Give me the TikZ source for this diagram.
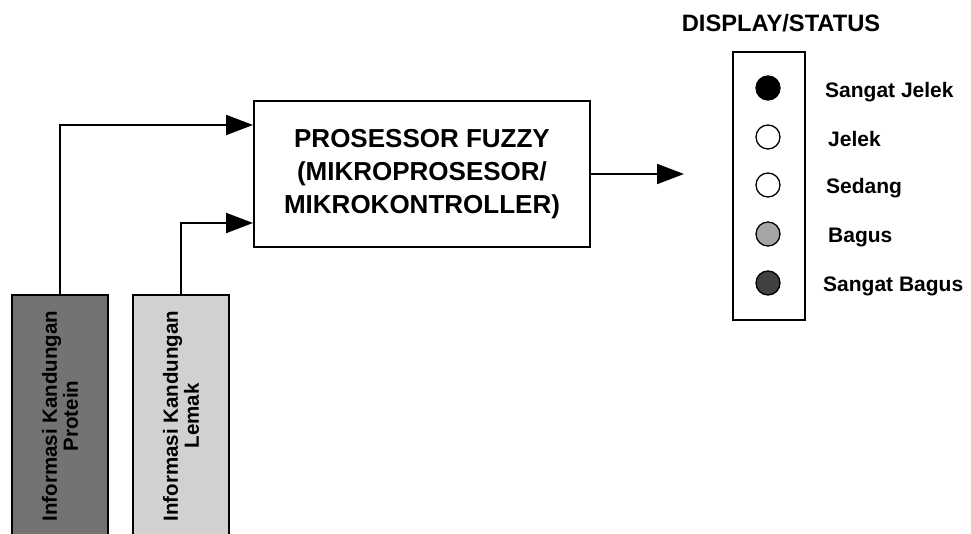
\documentclass[tikz,border=0pt]{standalone}
\usepackage{fontspec}
\setmainfont{Liberation Sans}
\usetikzlibrary{arrows.meta}
\tikzset{
  conn/.style={line width=2pt, -{Triangle[length=27pt,width=20pt]}},
  procbox/.style={draw, line width=2.2pt, minimum width=336pt, minimum height=146pt, align=center,
    font=\fontsize{26}{33}\selectfont\bfseries},
  sensorbox/.style={draw, line width=2.2pt, rotate=90, minimum width=242pt, minimum height=96pt,
    align=center, inner sep=0pt, font=\fontsize{20.5}{21}\selectfont\bfseries},
  dispbox/.style={draw, line width=2pt, minimum width=72pt, minimum height=268pt},
  lamp/.style={circle, draw, line width=1.3pt, minimum size=24pt, inner sep=0pt},
  lamplabel/.style={anchor=base west, inner sep=0pt, font=\fontsize{21}{25}\selectfont\bfseries},
  titletext/.style={anchor=base, inner sep=0pt, font=\fontsize{23.7}{28}\selectfont\bfseries}
}
\begin{document}
\begin{tikzpicture}[x=1pt,y=-1pt]
\useasboundingbox (0,0) rectangle (971,534);
% processor
\node[procbox] (proc) at (422,174) {PROSESSOR FUZZY\\(MIKROPROSESOR/\\MIKROKONTROLLER)};
% sensor boxes
\node[sensorbox, fill=black!55] (prot) at (60,416) {Informasi Kandungan\\Protein};
\node[sensorbox, fill=black!18] (lemak) at (181,416) {Informasi Kandungan\\Lemak};
% coordinates for input arrows
\coordinate (in1) at (253,125);
\coordinate (in2) at (253,223);
\draw[conn] (prot.east) |- (in1);
\draw[conn] (lemak.east) |- (in2);
% output
\coordinate (out) at (684,174);
\draw[conn] (proc.east) -- (out);
% display
\node[titletext] (title) at (781,32) {DISPLAY/STATUS};
\node[dispbox] (disp) at (769,186) {};
\node[lamp, fill=black] (l1) at (768,88) {};
\node[lamp, fill=white] (l2) at (768,137) {};
\node[lamp, fill=white] (l3) at (768,185) {};
\node[lamp, fill=black!35] (l4) at (768,234) {};
\node[lamp, fill=black!75] (l5) at (768,283) {};
\node[lamplabel] (t1) at (825,98) {Sangat Jelek};
\node[lamplabel] (t2) at (828,147) {Jelek};
\node[lamplabel] (t3) at (826,194) {Sedang};
\node[lamplabel] (t4) at (828,243) {Bagus};
\node[lamplabel] (t5) at (823,292) {Sangat Bagus};
\end{tikzpicture}
\end{document}
